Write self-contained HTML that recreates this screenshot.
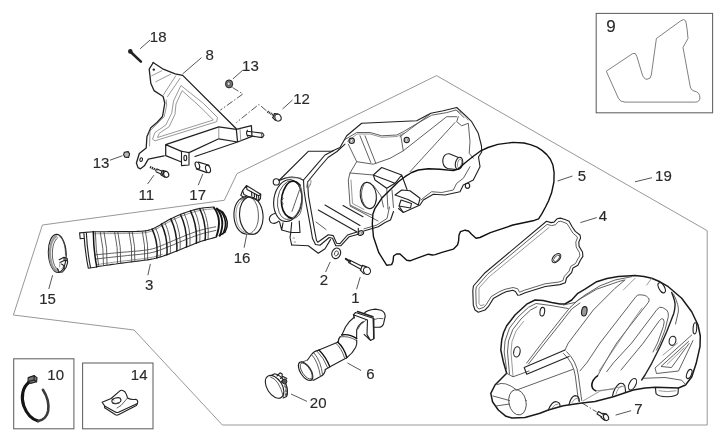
<!DOCTYPE html>
<html><head><meta charset="utf-8"><title>Air box</title>
<style>
html,body{margin:0;padding:0;background:#fff;}
svg{display:block;filter:blur(0.3px)}
text{font-family:"Liberation Sans",Arial,sans-serif;font-size:15px;fill:#2a2a2a;stroke:#2a2a2a;stroke-width:0.15;text-anchor:middle}
.g{fill:none;stroke:#8c8c8c;stroke-width:0.9}
.o{fill:none;stroke:#222;stroke-width:1.12;stroke-linejoin:round;stroke-linecap:round}
.m{fill:none;stroke:#444;stroke-width:0.85;stroke-linejoin:round;stroke-linecap:round}
.t{fill:none;stroke:#777;stroke-width:0.75;stroke-linejoin:round;stroke-linecap:round}
.k{fill:none;stroke:#111;stroke-width:1.4;stroke-linejoin:round;stroke-linecap:round}
.l{fill:none;stroke:#444;stroke-width:0.9}
.d{fill:none;stroke:#444;stroke-width:0.9;stroke-dasharray:7 2 1.5 2}
.w{fill:#fff}
</style></head><body>
<svg width="720" height="439" viewBox="0 0 720 439">
<rect width="720" height="439" fill="#fff"/>
<!-- FRAME -->
<g id="frame">
<path class="g" d="M436.6 75.6 L237 173.6 L224.3 200.3 L42.4 225 L13.4 315 L134.1 330 L222.4 425 L707.2 425 L707.2 230.7 Z"/>
<rect class="l" x="596.2" y="13.4" width="116.4" height="99.4" style="stroke:#606060;stroke-width:1.05"/>
<rect class="l" x="13.7" y="358.8" width="60.2" height="70" style="stroke:#606060;stroke-width:1.05"/>
<rect class="l" x="82.6" y="363" width="70.4" height="65.8" style="stroke:#606060;stroke-width:1.05"/>
</g>
<!-- LABELS -->
<g id="labels">
<text x="158.2" y="42">18</text>
<text x="209.6" y="60">8</text>
<text x="250.4" y="71">13</text>
<text x="301.5" y="103.5">12</text>
<text x="101" y="167.5">13</text>
<text x="146.4" y="200.3">11</text>
<text x="197.7" y="200">17</text>
<text x="242.1" y="262.8">16</text>
<text x="47.6" y="304.3">15</text>
<text x="149.1" y="290.3">3</text>
<text x="323.8" y="285.3">2</text>
<text x="355.3" y="302.6">1</text>
<text x="582" y="181">5</text>
<text x="663.4" y="180.6">19</text>
<text x="602.9" y="221.4">4</text>
<text x="370.3" y="378.6">6</text>
<text x="318.2" y="408.4">20</text>
<text x="638.4" y="413.5">7</text>
<text x="611" y="32.1" style="font-size:17px">9</text>
<text x="55.7" y="380">10</text>
<text x="139.2" y="379.6">14</text>
</g>
<!-- LEADERS -->
<g id="leaders" class="l">
<path d="M140.1 48.8L150.1 40M182.7 73.9L201.5 57.6M232.9 78.9L242.9 70.1M282.5 109L292.5 100M110 160.2L122.5 155.7M147.6 184L153.9 175.2M198.2 185.2L202.8 174M246.6 235.2L244.1 247.7M52.6 275.2L48.8 289M150.4 263.9L147.9 275.2M330.2 261.9L325.6 272M360.2 277.1L356.6 289.3M557.5 181L572.5 176M635 181.8L652 177.7M580.4 222.6L596.7 217.6M347.5 363L361 370.5M291 394L307 401.4M615.6 415.1L631.1 410.7"/>
</g>
<g id="dashdot" class="d">
<path d="M232.5 87.5L242.9 94L220.3 110.2M266.4 110.7L258.9 104.4L236.3 122.6M582 403L596.7 412"/>
</g>
<!-- PARTS -->
<!--P9-->
<path class="t" style="stroke:#555" d="M606.6 71 L632.6 53.6 Q635.6 52 636.8 56.2 L641.8 73 Q643.5 79.3 647 79.3 Q651 79 651.3 75 L656.4 38.5 L680.5 21 Q684 18 685.8 21 Q687.5 30 688 38.5 L683 47.4 L690.3 87 Q691 90.3 694 91 Q700 92 699.9 98 Q699.5 102.1 695.5 102.1 L625 102.1 Q620 102 618.5 98.5 Z"/>
<!--/P9-->
<!--P10-->
<path class="k" style="stroke-width:3.1;stroke:#151515" d="M28.8 382.6 C22.8 387 20.6 397 23.8 406 C26.6 413.5 32 419.3 38 421"/>
<path class="k" style="stroke-width:2.6;stroke:#3a3a3a" d="M42.9 389.8 C47 396 49.2 404 48.1 411 C47.2 416 43.5 420.3 38 421"/>
<path class="o" style="fill:#777" d="M28.2 377.6 L34.2 375.6 L37 377.6 L36.6 381.8 L30.6 383.4 L28 381.6 Z"/>
<path class="o" d="M34.2 375.6 L34 380 L36.6 381.8 M34 380 L28 381.6"/>
<!--/P10-->
<!--P14-->
<path class="o" d="M102.1 402.3 L111.1 398.5 L120.2 390.6 Q122.5 389.6 125.1 392 Q127 395 127.5 398 Q131 400 135.7 399.3 Q138.6 400.5 137.4 403.6 L118.5 412.2 Q116.9 412.9 115.3 412 L104.6 405.9 Z"/>
<path class="o" d="M104.6 405.9 L104.6 407.7 L115.5 414.8 Q116.9 415.6 118.4 414.8 L136.4 405.6 L137.4 403.6"/>
<path class="m" d="M111.1 398.5 L114 400 M127.5 398 L121 405.5 L117 408"/>
<ellipse class="o" cx="116.4" cy="400.7" rx="4.6" ry="2.8" transform="rotate(-15 116.4 400.7)"/>
<path class="m" d="M113 402.8 Q116 404.5 119.5 403"/>
<!--/P14-->
<!--BRACKET-->
<path class="o" style="stroke-width:1.3" d="M153.3 62.5 L149.2 69.2 L150.8 83.3 L154 90.6 L163.1 96.5 L164.8 103 L162.5 116.5 L157 122.5 L150.8 127.8 L146.9 136.7 L146.2 148 L139.3 153.5 L136.4 163 L138 167.6 L140.5 168.8 L144.4 165.8 L148.3 159.2 L164.2 155.8"/>
<path class="o" style="stroke-width:1.3" d="M153.1 62.5 L162.6 68.8 L175.2 73.8 L182.7 75.4 L236.3 128.8"/>
<path class="o" style="stroke-width:1.25" d="M165.7 144.6 L218.8 126.9 L236.3 129.4 L251.4 125.7 L252 136.3 L237.6 142 L218.8 138.8 L189 152.6 M165.7 144.6 L165.7 155.7 L181.5 162 M165.7 144.6 L181.5 151.3 M236.3 129.4 L237.6 142 M237.6 142 L195 156.5"/>
<path class="t" d="M218.8 128 L218.8 138.5 M240 128.8 L240.8 140.6"/>
<path class="o" d="M181.5 151.3 L189 152.6 L189 165 L181.5 165.6 Z"/>
<ellipse class="o" cx="185.3" cy="158" rx="1.4" ry="2.7"/>
<path class="o" d="M247.2 131.3 L262.4 133.1 Q264.6 135.4 262 137.6 L247.6 135.4 M247.4 130.2 Q245.6 133 247.6 136.2"/>
<ellipse class="m" cx="262.6" cy="135.3" rx="1.2" ry="2.2"/>
<ellipse class="o" cx="141.2" cy="159.6" rx="1.3" ry="1.9" transform="rotate(15 141.2 159.6)"/>
<circle cx="153.8" cy="69.6" r="1.2" fill="#222"/>
<path class="t" d="M180.8 85.8 L173.5 101 L171.7 113.3 L165.8 125 L155 132.5 L152.5 139.2 L155 140.8 L216.7 121.7 L217.5 117.5 L203.3 103.3 L187.5 90.8 Z"/>
<path class="t" d="M182 91 L176 104 L175 114.2 L169.2 126.7 L159.2 133.3 L157.5 137.5 L213.3 120 L200 106.7 Z"/>
<path class="t" d="M151.7 75.8 L161.7 70.8 M155.8 81.7 L170.8 74.2 M175.8 75.8 L163.3 95 M180 78.3 L167.5 96.7 M166.2 100 L166.7 105 L164.2 116.7 L156.7 124.2 L150 131 L149.6 146"/>
<!--/BRACKET-->
<!--SMALL-->
<!-- bolt 18 -->
<path class="k" style="stroke-width:2.6;stroke:#222" d="M131 52.2 L140.9 61.6"/>
<circle cx="130.3" cy="51.4" r="2.3" fill="#222"/>
<!-- nut 13 -->
<ellipse cx="229.1" cy="83.9" rx="3.6" ry="4" fill="#777" stroke="#222" stroke-width="1"/>
<ellipse cx="228.6" cy="83.7" rx="1.5" ry="1.8" fill="#ddd" stroke="#333" stroke-width="0.6"/>
<!-- bolt 12 -->
<path class="k" style="stroke-width:2.3;stroke:#333;stroke-dasharray:1.1 0.7;stroke-linecap:butt" d="M267.5 111.6 L274 115.4"/>
<path class="o" d="M274.6 113.6 L272.8 117.6"/>
<ellipse class="o" cx="278" cy="117.6" rx="3" ry="3.6" transform="rotate(-25 278 117.6)"/>
<path class="o" d="M274.6 113.6 L278 114 M272.8 117.6 L275.4 120.4"/>
<!-- nut 13 left -->
<path class="o" style="fill:#bbb" d="M124.3 152.3 L128.2 151.6 L129.6 154 L128.6 157.4 L125 157.2 L123.6 154.8 Z"/>
<!-- bolt 11 -->
<path class="k" style="stroke-width:2.3;stroke:#222;stroke-dasharray:1.3 0.7;stroke-linecap:butt" d="M150 167 L157.5 170.5"/>
<path class="o" d="M157 169 L162 171.3 M156 171.8 L161 174"/>
<path class="o" d="M162.2 170.2 L160.8 174.8 M163.6 170.8 L162.2 175.4"/>
<ellipse class="o" cx="166.2" cy="174.4" rx="2.5" ry="3" transform="rotate(-20 166.2 174.4)"/>
<path class="o" d="M163 170.6 L166 171.4 M161.6 175.2 L164.5 177"/>
<!-- spacer 17 -->
<path class="o" d="M198.5 162.1 L209.1 165.2 M196.3 168.9 L206.9 172.6"/>
<ellipse class="o" cx="197.4" cy="165.5" rx="2.1" ry="3.6" transform="rotate(-18 197.4 165.5)"/>
<ellipse class="o" cx="208" cy="168.9" rx="2.3" ry="3.9" transform="rotate(-18 208 168.9)"/>
<!-- washer 2 -->
<ellipse class="o" cx="336.2" cy="253.3" rx="4.3" ry="5.4" transform="rotate(20 336.2 253.3)"/>
<ellipse class="m" cx="336.4" cy="253.4" rx="1.9" ry="2.6" transform="rotate(20 336.4 253.4)"/>
<!-- bolt 1 -->
<path class="k" style="stroke-width:2;stroke:#222" d="M345.8 258.8 L350 261.6"/>
<path class="o" d="M349.5 260 L362 266.3 M348.5 262.6 L360.8 269.3"/>
<path class="o" d="M362.4 265.4 L360.4 270.2"/>
<ellipse class="o" cx="367" cy="270.7" rx="3.4" ry="3.8" transform="rotate(-25 367 270.7)"/>
<path class="o" d="M362.4 265.4 L366.5 266.9 M360.4 270.2 L364 273.8"/>
<!-- screw 7 -->
<path class="o" d="M598.5 411.6 L603 414.3 M597 414 L601.5 416.8 M598.5 411.6 L597 414"/>
<ellipse class="o" cx="606" cy="417.3" rx="2.4" ry="3.3" transform="rotate(-25 606 417.3)"/>
<path class="o" d="M602.6 413.4 L606.6 414 M601 417.2 L604.5 420.2"/>
<!--/SMALL-->
<!--HOSE3-->
<path class="o" d="M93.3 231.7 L96.5 231.7 L99.7 231.7 L103.0 231.7 L106.2 231.7 L109.4 231.6 L112.6 231.6 L115.8 231.6 L119.1 231.6 L122.3 231.6 L125.5 231.6 L128.7 231.6 L131.9 231.6 L135.2 231.5 L138.4 231.4 L141.6 231.3 L144.8 230.9 L148.0 230.4 L151.1 229.5 L154.0 228.2 L156.9 226.7 L159.7 225.2 L162.4 223.5 L165.2 221.9 L168.0 220.3 L170.9 218.8 L173.8 217.4 L176.7 216.1 L179.7 214.8 L182.7 213.6 L185.7 212.5 L188.7 211.5 L191.8 210.5 L194.9 209.6 L198.0 208.9 L201.2 208.2 L204.4 207.8 L207.6 207.5 L210.8 207.2 L214.0 207.0"/>
<path class="o" d="M96.7 266.7 L99.8 266.2 L103.0 265.8 L106.1 265.3 L109.3 264.9 L112.4 264.4 L115.6 264.0 L118.7 263.5 L121.9 263.1 L125.1 262.7 L128.2 262.3 L131.4 261.9 L134.5 261.5 L137.7 261.1 L140.8 260.7 L144.0 260.3 L147.1 259.9 L150.3 259.4 L153.4 258.8 L156.5 258.0 L159.6 257.1 L162.6 256.2 L165.6 255.1 L168.6 254.1 L171.6 253.0 L174.6 251.8 L177.5 250.7 L180.5 249.5 L183.4 248.3 L186.4 247.1 L189.3 245.9 L192.3 244.7 L195.2 243.5 L198.2 242.4 L201.2 241.3 L204.2 240.4 L207.3 239.5 L210.4 238.7 L213.4 237.9 L216.5 237.0"/>
<path class="t" d="M93.5 233.8 L96.7 233.8 L99.9 233.7 L103.2 233.7 L106.4 233.6 L109.6 233.6 L112.8 233.6 L116.0 233.5 L119.2 233.5 L122.4 233.5 L125.7 233.4 L128.9 233.4 L132.1 233.4 L135.3 233.3 L138.5 233.2 L141.7 233.0 L144.9 232.7 L148.1 232.1 L151.2 231.3 L154.2 230.0 L157.0 228.6 L159.8 227.0 L162.6 225.4 L165.4 223.8 L168.2 222.3 L171.1 220.8 L174.0 219.4 L176.9 218.1 L179.9 216.8 L182.9 215.6 L185.9 214.5 L188.9 213.5 L192.0 212.5 L195.1 211.6 L198.2 210.8 L201.4 210.2 L204.5 209.7 L207.7 209.3 L210.9 209.1 L214.2 208.8"/>
<path class="m" d="M95.5 254.8 L98.7 254.5 L101.9 254.2 L105.1 253.9 L108.2 253.6 L111.4 253.3 L114.6 253.0 L117.8 252.7 L120.9 252.4 L124.1 252.1 L127.3 251.9 L130.5 251.6 L133.6 251.3 L136.8 251.1 L140.0 250.8 L143.2 250.4 L146.3 250.0 L149.5 249.5 L152.6 248.8 L155.7 247.9 L158.6 246.8 L161.6 245.6 L164.5 244.4 L167.5 243.1 L170.4 241.9 L173.3 240.6 L176.2 239.4 L179.2 238.1 L182.1 236.9 L185.1 235.7 L188.1 234.5 L191.1 233.4 L194.1 232.3 L197.1 231.2 L200.1 230.3 L203.2 229.5 L206.3 228.7 L209.4 228.1 L212.5 227.4 L215.7 226.8"/>
<path class="m" d="M96.0 259.0 L99.1 258.6 L102.3 258.3 L105.4 257.9 L108.6 257.6 L111.8 257.2 L114.9 256.9 L118.1 256.5 L121.3 256.2 L124.4 255.9 L127.6 255.5 L130.8 255.2 L134.0 254.9 L137.1 254.6 L140.3 254.3 L143.5 253.9 L146.6 253.5 L149.8 253.0 L152.9 252.3 L156.0 251.5 L159.0 250.4 L161.9 249.3 L164.9 248.2 L167.9 247.0 L170.8 245.8 L173.8 244.6 L176.7 243.3 L179.6 242.1 L182.6 240.9 L185.5 239.7 L188.5 238.5 L191.5 237.4 L194.5 236.2 L197.5 235.2 L200.5 234.2 L203.6 233.3 L206.7 232.5 L209.8 231.8 L212.9 231.1 L215.9 230.4"/>
<path class="t" d="M96.5 264.6 L99.6 264.2 L102.8 263.7 L106.0 263.3 L109.1 262.9 L112.3 262.4 L115.4 262.0 L118.6 261.6 L121.7 261.2 L124.9 260.8 L128.0 260.5 L131.2 260.1 L134.4 259.7 L137.5 259.3 L140.7 259.0 L143.8 258.6 L147.0 258.1 L150.2 257.6 L153.3 257.0 L156.4 256.2 L159.4 255.3 L162.4 254.3"/>
<path class="m" d="M100.2 231.7 Q103.9 248.6 103.5 265.7 M104.0 231.7 Q107.6 248.3 107.1 265.2 M114.6 231.6 Q118.2 247.6 117.6 263.7 M117.8 231.6 Q121.3 247.3 120.7 263.3 M129.1 231.6 Q132.5 246.6 131.7 261.9 M132.2 231.6 Q135.6 246.4 134.8 261.5 M142.3 231.2 Q145.5 245.5 144.7 260.2 M145.4 230.8 Q148.6 245.1 147.7 259.8"/>
<path class="k" style="stroke-width:1.5;stroke:#1a1a1a" d="M152.1 229.1 Q158.5 242.3 156.8 257.9 M161.5 224.1 Q168.1 238.0 166.9 254.7 M170.8 218.9 Q177.8 233.6 176.8 251.0 M180.5 214.5 Q187.6 229.6 186.5 247.0 M190.5 210.9 Q197.6 226.1 196.3 243.1 M199.7 208.5 Q206.7 223.7 205.1 240.1"/>
<path class="m" d="M155.5 227.5 Q161.9 240.8 160.4 256.9 M164.7 222.2 Q171.5 236.4 170.4 253.4 M174.2 217.2 Q181.2 232.2 180.2 249.6 M184.0 213.1 Q191.1 228.3 190.0 245.6 M194.2 209.8 Q201.2 225.0 199.8 241.8 M202.7 208.0 Q209.7 223.2 208.1 239.3"/>
<path class="o" d="M79.6 232.9 L80.2 238.6 L84.6 238.2 M79.6 232.9 L93.3 231.7 M83.9 233.4 Q85 252 88.3 268.2 L96.7 267 M86.3 232.4 Q87.3 252 90.6 267.8"/>
<path class="k" style="stroke-width:1.5" d="M93.3 231.7 Q93.5 250 96.7 266.7"/>
<path class="m" d="M95.3 231.6 Q95.6 250 98.8 266.3"/>
<path class="k" style="stroke-width:1.9;stroke:#151515" d="M214 207.8 Q222.5 219 216.5 236.2 M217 208.6 Q226 220 219.8 235.6"/>
<path class="k" style="stroke-width:1.5" d="M220.2 210.4 Q229.2 221 222.8 234 M216.6 208.6 L222.5 212 M219.3 235.6 L224.6 232.4"/>
<path class="k" style="stroke-width:1.5" d="M223.2 212.6 Q230.6 222.5 225 232"/>
<!--/HOSE3-->
<!--CLAMP15-->
<ellipse class="o" cx="57.3" cy="253.4" rx="8.9" ry="19" transform="rotate(-3 57.3 253.4)"/>
<path class="t" style="stroke-width:2.3;stroke:#9a9a9a" d="M56 236.2 C50.5 240 49.3 250 50.2 258 C51 265 53.5 269.5 57 271"/>
<path class="m" d="M57.8 237.6 C53 241 51.8 250 52.6 258 C53.3 264 55.2 268 58.3 270"/>
<path class="m" d="M59.5 236 C63.5 239 65.6 246 65.5 255"/>
<path class="o" d="M59.2 259.8 L64 257.2 L67.2 258.6 L67.6 262.6 L66 267.5 L62.5 272 L59 272.2 L57.6 268.6 M64 257.2 L64.2 260.6 L60 262.4 M64.2 260.6 L67.4 260.2 M61.5 264 Q65 265.5 64 270.5"/>
<path class="t" d="M60 262.4 L59.6 267 M62 268.5 L63.5 266.8"/>
<!--/CLAMP15-->
<!--CLAMP16-->
<path class="o" d="M246.5 196.3 C238 197.5 233.2 206 234 217 C234.8 226.5 239.5 233.5 246.5 234.3"/>
<path class="t" d="M247 197.6 C239.5 199 235.2 207 236 217 C236.8 225.5 240.6 231.5 246.8 233"/>
<ellipse class="o" cx="251.3" cy="215.6" rx="11.7" ry="18.8" transform="rotate(-5 251.3 215.6)"/>
<path class="m" d="M253.5 199.6 C257.5 204 259 212 258.2 220 C257.5 226.5 254.5 231.5 250 233.6"/>
<path class="m" d="M246.5 234.3 L252.6 234.3 M240.8 199.4 L246 197.6"/>
<path class="o" d="M242.6 190.7 L246.4 185.6 L260.8 194.2 L260.4 198.6 L258.9 200.6 L252.5 198.4 L244 194.6 Z M246.4 185.6 L247 189.4 L258.6 195.8 L260.8 194.2 M258.6 195.8 L258.9 200.6 M251.5 191.8 L251.8 195.6 M254.2 193.3 L254.5 197 M256.4 194.6 L256.7 198.4"/>
<path class="o" d="M242.6 190.7 L240.8 195.2 L244 197.4"/>
<!--/CLAMP16-->
<!--AIRBOX-->
<!-- outer silhouette top -->
<path class="o" d="M279 180.5 L308.3 151.3 L331.7 151.3 L340 147.5 L346.7 135.8 L361.7 123.3 L416.7 120.8 L430.8 113.3 L443.3 110.8 L456.7 107.5 L466.7 116.7 L471.7 121.7 L478.3 133.3 L481.5 146 L481.7 152 L478.5 157 L480 166.7 L473.3 180 L463.3 185 L460 191.7 L445 195 L433.3 194.2 L423.3 200 L420 205 L403.3 212.5 L398.5 208.5"/>
<!-- top double line -->
<path class="m" d="M345 139.5 L356.7 132.5 L370 132.5 L381.7 135.8 L396.7 135 L403.3 131.7 L418.3 122.8 L431.7 115.2 L446.7 112.6 L456 110 L464 117.5"/>
<path class="t" d="M347.5 141.5 L357 134 L370 134 L381.7 137.3 L397 136.5 L404 133"/>
<!-- flange between throttle body and box (double curve) -->
<path class="o" d="M333.3 150.8 L325 155 L315 166.7 L303.5 180 L304 190 L305.5 200 L308 213.3 L310.8 228.3 L312.5 238.5 L315.5 244.5 L320 245.2 L329.2 237.5 L332.5 238.3 L335.8 245.8 L340.8 245.8 L349.2 236.7 L358.3 234.2"/>
<path class="o" d="M345 144.2 L337 151.5 L328 157.5 L318.5 168.5 L307.5 182 L308.5 196 L311.5 213 L314.5 230 L316.5 240.5 L317.8 242.2 L328.3 234.8 L333.3 235.6 L336.6 243.2 L340 243.6 L347.5 235 L357 232"/>
<path class="o" d="M291.7 245 L308.3 245.8 L318.3 253.3 L325 248.7 L330.5 239.6"/>
<ellipse class="t" cx="308.8" cy="184" rx="1.6" ry="4.6" transform="rotate(20 308.8 184)"/>
<!-- throttle opening -->
<ellipse class="o" cx="287.8" cy="200.6" rx="14" ry="21" transform="rotate(8 287.8 200.6)"/>
<ellipse class="m" cx="289.6" cy="200.2" rx="12" ry="19.4" transform="rotate(8 289.6 200.2)"/>
<path class="k" style="stroke-width:1.6" d="M300.1 185.2 C296 180 290 179.6 286.2 185.5 C282.5 191.5 280.6 199 281.8 206 C283 212.5 286.5 217 292 218.4"/>
<path class="m" d="M281.8 196.5 L283.2 198.4 L281.4 201 L283 203.6 L282 206 M300.1 185.2 C303 192 303.2 204 300.5 212.5 C299 216 296 218.6 292 218.4 M299.5 190 L292 211.4"/>
<circle class="o" cx="276.3" cy="181.9" r="3.1"/>
<path class="o" d="M279.3 180.6 Q292 173.5 303.6 180.2"/>
<path class="t" d="M285 177.6 L301 178"/>
<!-- lower-left bumps -->
<path class="o" d="M275.6 213.2 Q269.6 214.5 269.3 219 Q269.8 223.6 274.5 223.4 Q277 223 278.8 221.2 M279.5 221.7 L281.7 230 L290.8 232.5 L290 237.5 L291.7 245 M290.8 232.5 L300 232.5 L299.2 221 M290.8 232.5 L291.7 222.5 M281.7 230 L283 222.8"/>
<path class="t" d="M293 238 L294.5 238 M294 242 L295.5 242"/>
<!-- internal ribs -->
<path class="o" d="M318.3 210 L356.7 231.7 M325 205 L360 225.5 M343 205.5 L363 216.7"/>
<path class="m" d="M316 222 L326 229.5 M350 206 L378 221"/>
<!-- screw bottom -->
<ellipse class="o" cx="360.8" cy="233" rx="2.8" ry="2.2" transform="rotate(-25 360.8 233)"/>
<ellipse class="t" cx="360.8" cy="233" rx="1.4" ry="1" transform="rotate(-25 360.8 233)"/>
<path class="o" d="M363.8 231 L378.3 226.7 L385 222.5 L390.5 220 L393.5 211.5 M358.3 233.3 L358.3 228.3"/>
<path class="m" d="M364 228.8 L377 225 L383 221 L387 218.5 L389.5 207"/>
<!-- concave upper pocket -->
<path class="m" d="M348.3 144.2 L356.7 161.7 L373.3 164.2 L390 158.3 L403.3 150.8 L400.8 135.8 M360 135.8 L370.8 162.5 M365 135.8 L375.8 163.3 M356.7 161.7 L350 173 L348.3 180 L350 205 L363.3 211.7 L371.7 215"/>
<path class="t" d="M351 180 L352.5 203.5 L364 209.5"/>
<path class="m" d="M403.3 150.8 L446.7 116.7 L456.7 116.7 M410 171.7 L455 122.5 M400 136.7 L430 114.2"/>
<path class="m" d="M458.3 116.7 L456.7 121.7 L461.7 125.8 L468.3 123.3 L470 141.7 L469.2 153.3 L473.3 158.3"/>
<path class="t" d="M456 110 L463 114 L468 120"/>
<!-- screws top -->
<circle class="o" cx="351.7" cy="140.8" r="2.7"/><circle class="t" cx="351.7" cy="140.8" r="1.3"/>
<circle class="o" cx="406.7" cy="140" r="2.6"/><circle class="t" cx="406.7" cy="140" r="1.2"/>
<ellipse class="o" cx="467.5" cy="185.8" rx="2.2" ry="2.6"/>
<!-- circular port -->
<ellipse class="o" cx="368.3" cy="195.5" rx="8" ry="13.2" transform="rotate(-8 368.3 195.5)"/>
<path class="m" d="M364 184.5 C359.5 192 361 204 368 208.5 M373.5 185.5 L381 196 L383.5 207"/>
<!-- box structure right of port -->
<path class="o" d="M373.3 175 L381.7 167.5 L401.7 175 L395 183.3 Z M373.3 175 L375 180 L386.7 188.3 L395 183.3 M401.7 175 L407 189.5"/>
<path class="m" d="M386.7 188.3 L388 209 M392 190 L393.5 207.5 M350 173 L373.3 175"/>
<!-- small box -->
<path class="o" d="M401.7 190 L410 190.8 L420 198.3 L418.3 205 M395 195 L401.7 190 M395 195 L408 199.5 L418.3 205 M399 206 L403.3 212.5 M399 206 L401 200 L411.5 203.5 L410.5 208 Z"/>
<!-- inner parallel right-bottom -->
<path class="m" d="M470 166.7 L463.3 178.3 L456.7 183.3 L453.3 190 L441.7 192.5 L431.7 191.7 L425 196.7 L421 200"/>
<!-- cylinder boss -->
<path class="o" d="M458.5 157.4 L449.3 153.8 Q443.6 153.5 442.8 160 Q442.5 166.5 447.5 168.5 L456.5 169.6"/>
<ellipse class="o" cx="459" cy="163.4" rx="3.6" ry="6.2" transform="rotate(12 459 163.4)"/>
<ellipse class="t" cx="459.5" cy="163.6" rx="2" ry="4.4" transform="rotate(12 459.5 163.6)"/>
<!--/AIRBOX-->
<!--GASKET5-->
<path class="k" d="M386.6 265.2 L378.8 252.7 L373.5 237 L372.3 224 L372.9 214 L375 208.3 L381.7 198.3 L390 190 L398.3 181.7 L405 176.7 L411.7 172.5 L418.3 170 L428.3 168.7 L440 169.3 L453.5 170.6 L458 169.2 L465.2 162.7 L473 156.5 L480.2 151.2 L488 147.5 L497.8 144.4 L512.8 142.4 L524 143 L530.4 144.6 L537 147.2 L542 150.4 L546.8 154.6 L550.4 159.2 L552.9 165 L554.1 172.7 L553.9 182 L551.6 192.8 L548.5 201 L545.5 207 L541.8 213.8 L538.6 218.8 L533 220.8 L512.9 225 L490.4 232.7 L480 237.5 L476 238.2 L471.6 234.2 L468.5 231 L465 230.2 L460.5 231.6 L459 235 L458.6 241 L457.5 245 L453.3 249.2 L442 252.4 L435.2 254.6 L432.5 255 L428.3 254.2 L413.9 259.4 L410 260.8 L406.7 260.2 L403 256.8 L400 253.9 L396.5 254 L393.6 256 L393 261.5 L391.6 264.6 L386.6 265.2 Z"/>
<!--/GASKET5-->
<!--FILTER4-->
<path class="o" d="M546.5 221.3 L551 222.6 L554 222.1 L557 218.8 L560.3 218.1 L565 219.5 L569.1 221.3 L572 226.5 L575.3 231.4 L580 235 L580.6 238 L578.8 242 L579.1 246.4 L582.5 252 L582.9 256.4 L580.5 260 L577.9 265.2 L573 268 L571.6 272.7 L566.5 278 L565.3 282.8 L560 284.6 L545.3 286.5 L525.2 292.8 L520 295 L517.7 295.3 L515.5 291.5 L512.7 290.3 L506 291.8 L501.7 293.8 L493.3 298.6 L488.3 306.7 L485 310 L478.3 312.3 L475 310 L473.3 305 L472.8 291 L473.4 286 L485.1 272.7 Z"/>
<path class="m" d="M547.5 224.5 L551.5 225.6 L555.5 224.8 L558 221.8 L560.8 221.2 L567 223.6 L569.8 228 L572.8 233 L577 236.6 L577.4 238 L575.8 242 L576.2 247 L579.5 252.8 L579.8 255.8 L577.8 259 L575.5 263.5 L570.8 266.3 L569.2 271 L564.2 276.5 L563 280.5 L559 282 L545 283.8 L524.5 290.2 L519.5 292.2 L517.8 288.8 L513 287.5 L505 289.3 L499.5 291.6 L491.2 296.6 L486.2 304.6 L483.8 307.3 L479 309 L477.2 307.6 L476.2 304.3 L475.8 291 L476.3 287 L487.2 274.6 Z"/>
<path class="t" d="M549 227.5 L489.5 276.5 L479 288 L479 303.5 L480.5 305.6 L484 304.8"/>
<ellipse class="o" cx="556.4" cy="258.1" rx="5.4" ry="3.2" transform="rotate(-48 556.4 258.1)"/>
<ellipse class="m" cx="556.6" cy="258.3" rx="4" ry="2" transform="rotate(-48 556.6 258.3)"/>
<!--/FILTER4-->
<!--COVER7-->
<!-- outer silhouette -->
<path class="o" style="stroke-width:1.5;stroke:#1a1a1a" d="M506.7 373.3 L503.3 361.7 L500.8 350 L501.7 340 L503.6 332.5 L506.7 325.8 L515 315 L526.7 304.2 L535 300 L543 300.6 L551.7 302.5 L560 303.9 L565 304 L571.7 300 L577.8 293.3 L585 289.2 L596.7 281.7 L607 278.5 L618.3 276.4 L635 275.6 L644 276.6 L651.7 278.3 L660 281.8 L668.3 286.7 L681.7 298.3 L691.7 311.7 L698 325 L700.3 336 L700 346.7 L696.2 363.3 L691.8 376.7 L685.5 385 L678.5 388 L655.6 387.3 L645 388 L633.3 390 L613.3 396.8 L595 401.5 L580 403.3 L563.3 405.8 L548.3 410 L540 413.3 L525 417.5 L512 418 L506 416.3 L498.3 410 L492.5 401.7 L490.8 393.3 L495 385 L506.7 373.3 Z"/>
<!-- inner offset lines top-left -->
<path class="m" d="M506.5 369 L504.2 352 L505 341 L509.5 328 L518 317 L528.5 307.3 L536 303.5 L551 305.5 L568 308.5 M509.5 374 L507.5 352 L508.5 341 L512.8 329.5 L521 319 L530.5 310 L537 306.6"/>
<path class="t" d="M513 376.5 L511 352 L512 341.5 L516 331 L523.5 321.5"/>
<!-- snout cylinder -->
<ellipse class="m" cx="517.5" cy="402.3" rx="8.6" ry="12.8" transform="rotate(-12 517.5 402.3)"/>
<path class="m" d="M497 384.5 Q505 380.5 516.7 390 L573.3 369.2 M506.7 373.3 L513 376.8 L529 371 M493 396 L509.5 400.5 M496 406 L509.5 404"/>
<path class="m" d="M566.7 351.7 Q576.5 361 578.3 375 L581.7 400.5 M563.5 353.5 Q573.5 362.5 575.3 376 L578.5 401"/>
<!-- V groove -->
<path class="o" d="M524.2 367.5 L526.7 374.2 M524.2 367.5 L565 350 M526.7 374.2 L569 356.5"/>
<!-- diagonals -->
<path class="m" d="M526.7 363 L541.7 343.3 L560 320 L570 307.5 L578.3 300 L596.7 289.2 L618.3 281.7 L624.2 280 M528.5 364 L543.3 345 L560 324 L571.7 309 L580 303"/>
<path class="m" d="M563.3 305 L575 302.5 L585 295 L600 285.8 L615 280 L631.7 276.7"/>
<path class="m" d="M565 350 L568.3 343 L593.3 310 L615 288.3 L625 280"/>
<path class="t" d="M623.3 290 L635 278.3 M646.7 285 L651.7 278.3"/>
<!-- loop 1 (band with squared top) -->
<path class="m" d="M580 370.8 L586.7 363 L600 343 L621.7 315 L636 296.5 Q637.5 294.6 640 294.8 L644 295.2 Q647 296 648.5 298 Q650 300 648.3 302.5 L626.7 330 L616.7 343 L610 354 L597.5 375.8"/>
<path class="t" d="M599 371 L616.7 345 L632 322 L642 308"/>
<path class="k" style="stroke-width:1.6" d="M597.5 375.8 Q592 379.5 591.8 385.5 Q592.3 389.5 595.8 390.8"/>
<path class="t" d="M595.8 390.8 L613.3 389.2"/>
<!-- loop 2 (teardrop) -->
<path class="m" d="M606.7 371.7 L613.3 363 L631.7 343 L657 309.5 Q659.5 306 662.5 307.5 L666.7 310 Q669 312.5 668.3 316.7 L665 330 L660 343 L656.5 350"/>
<path class="m" d="M621 370 L643.3 343 L659.5 320.5 Q661.7 317.6 663.4 319.2 Q665 321 663.3 326.7 L657.5 343 L653 352"/>
<!-- holes -->
<ellipse class="o" cx="542.3" cy="311.7" rx="2.3" ry="4.4" transform="rotate(8 542.3 311.7)"/>
<ellipse class="o" style="fill:#999" cx="584.3" cy="311.3" rx="2.7" ry="4.7" transform="rotate(10 584.3 311.3)"/>
<ellipse class="o" cx="516.9" cy="351.9" rx="3.2" ry="5.2" transform="rotate(10 516.9 351.9)"/>
<ellipse class="o" cx="661.7" cy="287.7" rx="2.8" ry="5.6" transform="rotate(-28 661.7 287.7)"/>
<ellipse class="o" cx="672.5" cy="340.8" rx="3.3" ry="4.6" transform="rotate(15 672.5 340.8)"/>
<ellipse class="o" cx="694.9" cy="328.3" rx="1.8" ry="5.6" transform="rotate(4 694.9 328.3)"/>
<ellipse class="o" cx="689.2" cy="374" rx="2.3" ry="4.8" transform="rotate(22 689.2 374)"/>
<ellipse class="o" cx="632.5" cy="384.2" rx="3.2" ry="6.2" transform="rotate(28 632.5 384.2)"/>
<!-- scallops bottom -->
<path class="o" d="M548.3 410 Q552 401 556.5 401.7 Q560.5 402.5 560 406.5 M569 404.7 Q571 396.5 575 395.6 Q579.5 395.6 579.3 401.5 M612.5 396 Q614 387.5 619.5 383.5 Q624.5 382 625.3 388.5 L625.5 392"/>
<path class="t" d="M552 408 Q555 403.5 558 404 M572 402.5 Q574.5 398 577.5 398 M616 394 Q617.5 388 621.5 386"/>
<!-- right inner curve (thick) -->
<path class="o" style="stroke-width:1.4" d="M671.7 292.5 Q675.6 302 675 306 Q674.5 313 672.5 316.7 L666.7 331.7 L660 346.7 L651.7 363.3 L645 375 L641.7 380"/>
<path class="m" d="M673.5 294 Q679.5 306 678.3 312 L675.5 324"/>
<path class="m" d="M643.3 378.3 L665 377.5 L681.7 380.2 L685.5 384.5"/>
<!-- right vents: nested V -->
<path class="m" d="M691.7 335 L655 368 L656.5 373.5 L678.5 371 L693 340.5"/>
<path class="m" d="M688.5 341.5 L661 366.5 L671.5 367.5 L689 343.5"/>
<path class="t" d="M684 348 L667 364.5 M677.5 343 L663 355"/>
<!-- boss -->
<path class="o" d="M655.4 387.6 L656 393.5 Q658 396.6 667 396.8 Q676.5 396.6 678 393.6 L678.4 388"/>
<path class="t" d="M659 390.8 Q667 392.5 676 390.8"/>
<path class="t" d="M583 401 L600 391 L625 386"/>
<!--/COVER7-->
<!--PIPE6-->
<!-- flange plate -->
<path class="o" d="M355.6 312.5 L373.2 318.2 L373.8 338.7 L370.4 340.4 L364.1 334.3 M355.6 312.5 L353.3 314.8 L354.4 318 M367.5 320 L367 334.6 L370.4 340.4 M353.3 314.8 L367.5 320"/>
<path class="k" style="stroke-width:1.6;stroke:#222" d="M357.5 311.6 L373 316.8 M373.6 318.6 L373.8 338.4"/>
<!-- elbow right -->
<path class="o" d="M364.1 313.6 Q366 310 375.5 309.1 L381.2 310.2 Q385.2 312 385.2 316.5 L383.5 323.9 Q382 327.3 378.9 327.3 L374 327.3"/>
<path class="m" d="M374 319.5 Q378.5 317.6 383 318.6"/>
<!-- upper tube -->
<path class="o" d="M354.4 317 Q348.5 321.5 345.5 327 L342 334.8 M363.3 321.7 Q358 325 356.7 330 L356.6 338.5"/>
<path class="m" d="M365.5 320.5 Q359.5 324 357.8 329"/>
<!-- ring 1 -->
<path class="k" style="stroke-width:1.4" d="M341.7 335 Q349 333.5 356.8 338.6"/>
<path class="m" d="M340.6 336.8 Q348.5 335.5 356.7 340.6"/>
<!-- middle elbow -->
<path class="o" d="M340.3 336.5 Q338 339 338.3 342 M356.7 340 Q357.3 344 355.6 347.5 Q352.5 353.5 346.7 357.8"/>
<!-- lower tube -->
<path class="o" d="M338.3 342 L318.3 350.2 M346.7 357.8 L330 366.8 L325.3 369.6"/>
<path class="k" style="stroke-width:1.4" d="M337.6 342 Q344 347.5 346.8 357.5"/>
<path class="m" d="M335.6 343 Q342 348.5 344.8 358.6"/>
<path class="k" style="stroke-width:1.3" d="M319 350 Q326 357 329.8 366.7"/>
<path class="m" d="M317 351 Q324 358 327.8 368"/>
<!-- neck + flare -->
<path class="o" d="M318.3 350.2 Q314 351 311.5 354.5 L307.5 360 M325.3 369.6 Q325 374 320.5 376.5 L313.6 380.2"/>
<path class="m" d="M311.5 354.5 Q318 361 320.5 376.5 M314 353 Q321 361 322.6 375"/>
<ellipse class="o" cx="305.6" cy="371.2" rx="5.2" ry="10.6" transform="rotate(-33 305.6 371.2)"/>
<ellipse class="m" cx="306.2" cy="371" rx="4" ry="9.2" transform="rotate(-33 306.2 371)"/>
<path class="m" d="M301 362.5 L307.5 360 M309.5 380.2 L313.6 380.2"/>
<!--/PIPE6-->
<!--CLAMP20-->
<ellipse class="o" cx="274.6" cy="386.8" rx="7.6" ry="12.6" transform="rotate(-32 274.6 386.8)"/>
<path class="o" d="M271.6 375.2 L274.6 373.8 Q281 375 285.5 383 Q289 391 286.6 396.4 L283.2 398"/>
<path class="k" style="stroke-width:2.4;stroke:#333;stroke-dasharray:0.8 0.6;stroke-linecap:butt" d="M284.8 384.5 Q287.6 391 285.6 396.5"/>
<path class="m" d="M270.5 377 Q279 379 283.5 397"/>
<circle cx="284.5" cy="381.4" r="2.4" fill="#555" stroke="#222" stroke-width="1"/>
<path class="o" d="M277 376 L280 372.8 L282.2 374 L282 377.5 M280.5 378.5 L283 376.5 L286.8 378.6 M281 382.5 L282.5 380"/>
<!--/CLAMP20-->
</svg>
</body></html>
